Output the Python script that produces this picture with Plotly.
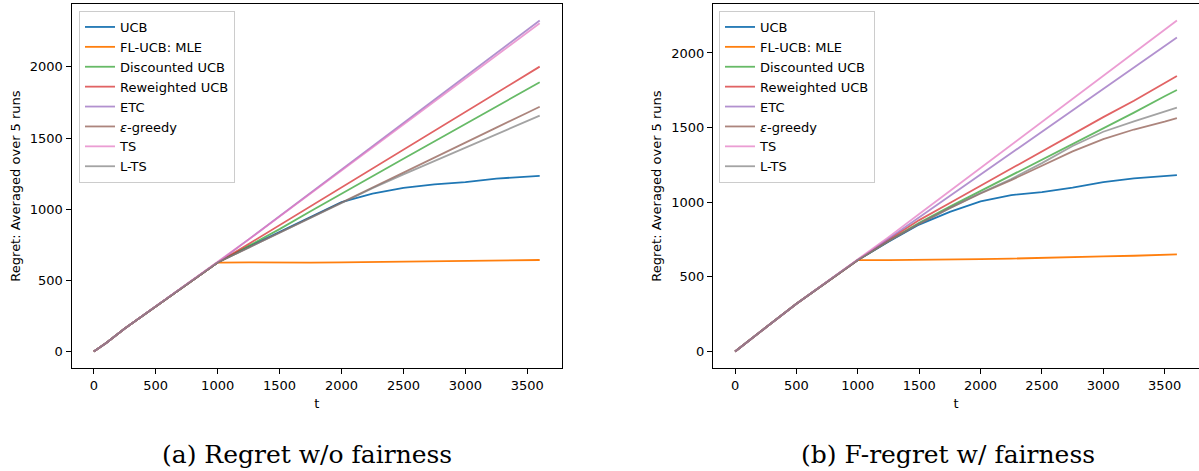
import plotly.graph_objects as go

# ---------------- data ----------------
t = [0, 100, 250, 500, 750, 1000, 1250, 1500, 1750, 2000, 2250, 2500, 2750, 3000, 3250, 3500, 3600]
series_names = ["UCB", "FL-UCB: MLE", "Discounted UCB", "Reweighted UCB", "ETC",
                "<i>ε</i>-greedy", "TS", "L-TS"]

pre_a = [0, 60, 162, 318, 472, 625]
regret_a = {
    "UCB":            pre_a + [735, 840, 950, 1050, 1110, 1150, 1175, 1190, 1215, 1230, 1234],
    "FL-UCB: MLE":    pre_a + [626, 624, 625, 626, 628, 630, 632, 634, 637, 641, 643],
    "Discounted UCB": pre_a + [742, 860, 985, 1110, 1232, 1354, 1476, 1598, 1720, 1843, 1892],
    "Reweighted UCB": pre_a + [755, 888, 1020, 1152, 1285, 1418, 1550, 1682, 1815, 1948, 2002],
    "ETC":            pre_a + [788, 952, 1115, 1279, 1442, 1606, 1769, 1933, 2096, 2262, 2326],
    "eps":            pre_a + [730, 836, 941, 1046, 1152, 1257, 1362, 1467, 1573, 1678, 1720],
    "TS":             pre_a + [787, 948, 1110, 1271, 1433, 1596, 1758, 1920, 2080, 2243, 2307],
    "L-TS":           pre_a + [730, 835, 940, 1044, 1147, 1245, 1338, 1432, 1526, 1620, 1657],
}

pre_b = [0, 62, 160, 320, 468, 612]
regret_b = {
    "UCB":            pre_b + [735, 850, 935, 1005, 1048, 1068, 1097, 1135, 1160, 1177, 1181],
    "FL-UCB: MLE":    pre_b + [612, 613, 615, 618, 622, 628, 633, 637, 641, 645, 651],
    "Discounted UCB": pre_b + [740, 862, 970, 1075, 1180, 1282, 1390, 1495, 1600, 1710, 1752],
    "Reweighted UCB": pre_b + [748, 880, 995, 1110, 1230, 1345, 1460, 1570, 1680, 1800, 1846],
    "ETC":            pre_b + [755, 899, 1042, 1185, 1329, 1472, 1615, 1759, 1902, 2046, 2103],
    "eps":            pre_b + [738, 855, 960, 1058, 1148, 1245, 1340, 1422, 1487, 1540, 1564],
    "TS":             pre_b + [766, 921, 1075, 1229, 1383, 1538, 1692, 1846, 2000, 2155, 2217],
    "L-TS":           pre_b + [738, 855, 962, 1062, 1155, 1262, 1377, 1472, 1542, 1606, 1633],
}
keys = ["UCB", "FL-UCB: MLE", "Discounted UCB", "Reweighted UCB", "ETC", "eps", "TS", "L-TS"]

x_ticks = [0, 500, 1000, 1500, 2000, 2500, 3000, 3500]
y_ticks = [0, 500, 1000, 1500, 2000]
captions = ["(a) Regret w/o fairness", "(b) F-regret w/ fairness"]
y_title = "Regret: Averaged over 5 runs"
x_title = "t"

colors = ["rgb(31,119,180)", "rgb(255,127,14)", "rgba(44,160,44,0.72)", "rgba(214,39,40,0.72)",
          "rgba(148,103,189,0.72)", "rgba(140,86,75,0.72)", "rgba(227,119,194,0.72)",
          "rgba(127,127,127,0.72)"]

W, H = 1199, 471
fig = go.Figure()

for k, name, col in zip(keys, series_names, colors):
    fig.add_trace(go.Scatter(x=t, y=regret_a[k], name=name, mode="lines",
                             line=dict(color=col, width=1.8), xaxis="x", yaxis="y",
                             legend="legend"))
for k, name, col in zip(keys, series_names, colors):
    fig.add_trace(go.Scatter(x=t, y=regret_b[k], name=name, mode="lines",
                             line=dict(color=col, width=1.8), xaxis="x2", yaxis="y2",
                             legend="legend2"))

font = dict(family="DejaVu Sans", size=13, color="black")
ydom = [1 - 368 / H, 1 - 4 / H]

def xax(dom, anchor):
    return dict(domain=dom, anchor=anchor, range=[-180, 3780], tickvals=x_ticks,
                ticks="outside", ticklen=5, tickcolor="black", showline=True,
                linecolor="black", linewidth=1, mirror=True, showgrid=False,
                zeroline=False, tickfont=font, automargin=False,
                title=dict(text=x_title, font=font, standoff=7))

def yax(dom, anchor, rng):
    return dict(domain=dom, anchor=anchor, range=rng, tickvals=y_ticks,
                ticks="outside", ticklen=5, tickcolor="black", showline=True,
                linecolor="black", linewidth=1, mirror=True, showgrid=False,
                zeroline=False, tickfont=font, automargin=False,
                title=dict(text=y_title, font=font, standoff=6))

legend_style = dict(font=font, bgcolor="rgba(255,255,255,0.85)", bordercolor="#cccccc",
                    borderwidth=1, xanchor="left", yanchor="top", tracegroupgap=0,
                    itemwidth=30)

fig.update_layout(
    width=W, height=H, margin=dict(l=0, r=0, t=0, b=0),
    paper_bgcolor="white", plot_bgcolor="white",
    xaxis=xax([71.5 / W, 562 / W], "y"),
    yaxis=yax(ydom, "x", [-116, 2442]),
    xaxis2=xax([713 / W, 1.0], "y2"),
    yaxis2=yax(ydom, "x2", [-111, 2328]),
    legend=dict(x=79 / W, y=1 - 11 / H, **legend_style),
    legend2=dict(x=719 / W, y=1 - 11 / H, **legend_style),
    showlegend=True,
)

for cx, txt in zip([307 / W, 948 / W], captions):
    fig.add_annotation(x=cx, y=1 - 454 / H, xref="paper", yref="paper", text=txt,
                       showarrow=False, xanchor="center", yanchor="middle",
                       font=dict(family="DejaVu Serif", size=25, color="black"))

fig.write_html("out.html", config={"displayModeBar": False},
               post_script="document.body.style.margin='0';")
